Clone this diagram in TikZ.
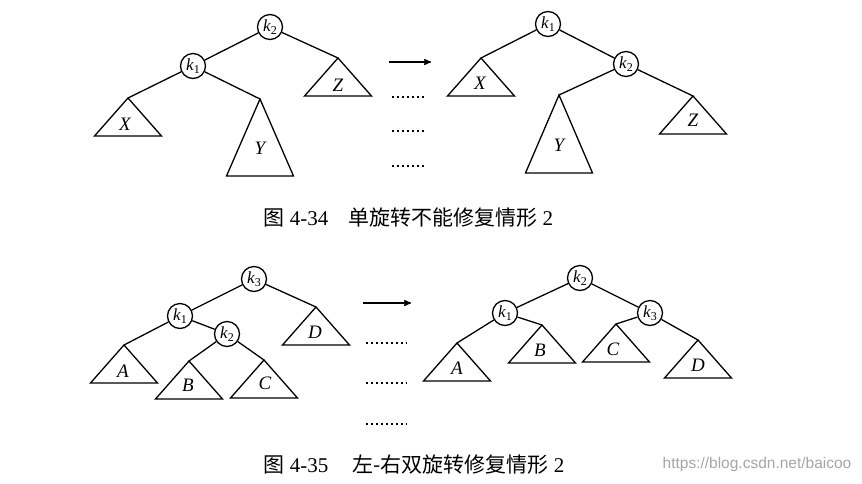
\documentclass[tikz,border=0pt]{standalone}
\usepackage{fontspec}
\setmainfont{Liberation Serif}
\newfontfamily\cjk{Noto Sans CJK SC}
\newfontfamily\urlfont{Liberation Sans}
\usepackage{tikz}
\usetikzlibrary{arrows}
\usetikzlibrary{calc}
\newcommand{\keyk}[1]{\textit{k}\raisebox{-3pt}{\fontsize{12}{12}\selectfont #1}}

\begin{document}
\begin{tikzpicture}[>=stealth',x=1pt,y=-1pt,line width=1.3pt]
		\tikzstyle{keynode}=[circle,draw,minimum size=25pt,inner sep=0pt,
			font=\fontsize{17}{18}\selectfont];
		\tikzstyle{subname}=[inner sep=0pt,font=\fontsize{19}{20}\selectfont\itshape];
		\tikzstyle{dotrow}=[line width=1.5pt,dash pattern=on 1.5pt off 3.5pt];
		\tikzstyle{caption}=[anchor=west,inner sep=0pt,font=\fontsize{21}{24}\selectfont];
		\useasboundingbox (0,0) rectangle (862,483);

		% fig 4-34, before
		\node[keynode](a2) at (270,27){\keyk{2}};
		\node[keynode](a1) at (193,66){\keyk{1}};
		\coordinate (aX) at (128,98);
		\coordinate (aY) at (260,99);
		\coordinate (aZ) at (338,58);
		\draw (aX) -- +(-33.5,38) -- +(33.5,38) -- cycle;
		\draw (aY) -- +(-33.5,77) -- +(33.5,77) -- cycle;
		\draw (aZ) -- +(-33.5,38) -- +(33.5,38) -- cycle;
		\node[subname](aXl) at ($(aX)+(-3,26)$){X};
		\node[subname](aYl) at ($(aY)+(0,49)$){Y};
		\node[subname](aZl) at ($(aZ)+(0,27)$){Z};
		\draw (a2) -- (a1) (a2) -- (aZ) (a1) -- (aX) (a1) -- (aY);

		% arrow and dots
		\coordinate (r0) at (389,62);
		\coordinate (r1) at (431,62);
		\draw[->,line width=1.4pt] (r0) -- (r1);
		\draw[dotrow] (392,97) -- (427,97);
		\draw[dotrow] (392,131) -- (427,131);
		\draw[dotrow] (392,166) -- (427,166);

		% fig 4-34, after
		\node[keynode](b1) at (548,24){\keyk{1}};
		\node[keynode](b2) at (626,64){\keyk{2}};
		\coordinate (bX) at (481,58);
		\coordinate (bY) at (559,95);
		\coordinate (bZ) at (693,96);
		\draw (bX) -- +(-33.5,38) -- +(33.5,38) -- cycle;
		\draw (bY) -- +(-33.5,78) -- +(33.5,78) -- cycle;
		\draw (bZ) -- +(-33.5,38) -- +(33.5,38) -- cycle;
		\node[subname](bXl) at ($(bX)+(-1,25)$){X};
		\node[subname](bYl) at ($(bY)+(0,50)$){Y};
		\node[subname](bZl) at ($(bZ)+(0,24)$){Z};
		\draw (b1) -- (bX) (b1) -- (b2) (b2) -- (bY) (b2) -- (bZ);

		\node[caption](cap1) at (263,218){{\cjk 图} 4-34\hspace{20pt}{\cjk 单旋转不能修复情形} 2};

		% fig 4-35, before
		\node[keynode](c3) at (254,279){\keyk{3}};
		\node[keynode](c1) at (180,316){\keyk{1}};
		\node[keynode](c2) at (227,334){\keyk{2}};
		\coordinate (cA) at (124,345);
		\coordinate (cB) at (189,361);
		\coordinate (cC) at (264,360);
		\coordinate (cD) at (316,307);
		\draw (cA) -- +(-33.5,38) -- +(33.5,38) -- cycle;
		\draw (cB) -- +(-33.5,38) -- +(33.5,38) -- cycle;
		\draw (cC) -- +(-33.5,38) -- +(33.5,38) -- cycle;
		\draw (cD) -- +(-33.5,38) -- +(33.5,38) -- cycle;
		\node[subname](cAl) at ($(cA)+(-1,26)$){A};
		\node[subname](cBl) at ($(cB)+(-1,24)$){B};
		\node[subname](cCl) at ($(cC)+(1,23)$){C};
		\node[subname](cDl) at ($(cD)+(-1,25)$){D};
		\draw (c3) -- (c1) (c3) -- (cD) (c1) -- (cA) (c1) -- (c2) (c2) -- (cB) (c2) -- (cC);

		% arrow and dots
		\coordinate (s0) at (363,303);
		\coordinate (s1) at (411,303);
		\draw[->,line width=1.4pt] (s0) -- (s1);
		\draw[dotrow] (366,343) -- (407,343);
		\draw[dotrow] (366,383) -- (407,383);
		\draw[dotrow] (366,424) -- (407,424);

		% fig 4-35, after
		\node[keynode](d2) at (580,278){\keyk{2}};
		\node[keynode](d1) at (505,313){\keyk{1}};
		\node[keynode](d3) at (650,313){\keyk{3}};
		\coordinate (dA) at (457,343);
		\coordinate (dB) at (542,325);
		\coordinate (dC) at (616,324);
		\coordinate (dD) at (698,340);
		\draw (dA) -- +(-33.5,38) -- +(33.5,38) -- cycle;
		\draw (dB) -- +(-33.5,38) -- +(33.5,38) -- cycle;
		\draw (dC) -- +(-33.5,38) -- +(33.5,38) -- cycle;
		\draw (dD) -- +(-33.5,38) -- +(33.5,38) -- cycle;
		\node[subname](dAl) at ($(dA)+(0,25)$){A};
		\node[subname](dBl) at ($(dB)+(-2,25)$){B};
		\node[subname](dCl) at ($(dC)+(-3,25)$){C};
		\node[subname](dDl) at ($(dD)+(0,25)$){D};
		\draw (d2) -- (d1) (d2) -- (d3) (d1) -- (dA) (d1) -- (dB) (d3) -- (dC) (d3) -- (dD);

		\node[caption](cap2) at (263,465){{\cjk 图} 4-35\hspace{24pt}{\cjk 左-右双旋转修复情形} 2};
		\node[anchor=west,inner sep=0pt,text=black!35,font=\fontsize{15.5}{18}\urlfont](url) at (662,464){https://blog.csdn.net/baicoo};
	\end{tikzpicture}
\end{document}
